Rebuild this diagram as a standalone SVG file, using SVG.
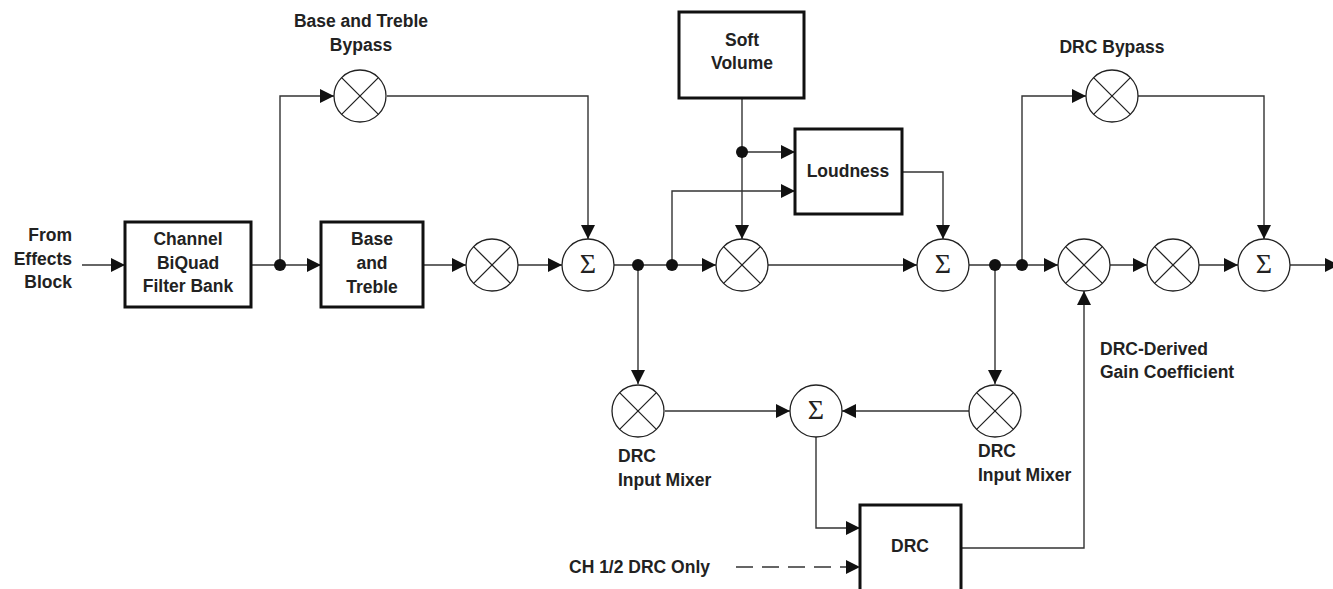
<svg xmlns="http://www.w3.org/2000/svg" width="1333" height="589" viewBox="0 0 1333 589">
<defs>
<marker id="arr" markerUnits="userSpaceOnUse" markerWidth="15" markerHeight="15" refX="14" refY="7" orient="auto">
<path d="M0,0 L14,7 L0,14 z" fill="#111"/>
</marker>
<g id="mul"><circle r="26" fill="#fff" stroke="#222" stroke-width="1.3"/><path d="M-18.4,-18.4 L18.4,18.4 M18.4,-18.4 L-18.4,18.4" stroke="#222" stroke-width="1.3"/></g>
<g id="sum"><circle r="26" fill="#fff" stroke="#222" stroke-width="1.3"/><text x="0" y="7.5" text-anchor="middle" font-family="'Liberation Serif', serif" font-size="28" fill="#222">Σ</text></g>
</defs>
<style>
.ln{fill:none;stroke:#333;stroke-width:1.4;marker-end:url(#arr)}
.box{fill:#fff;stroke:#111;stroke-width:3}
.t{font-family:'Liberation Sans',Arial,sans-serif;font-weight:bold;font-size:17.5px;fill:#222}
.c{text-anchor:middle}
.r{text-anchor:end}
.dot{fill:#111}
</style>
<rect width="1333" height="589" fill="#fff"/>

<g id="connectors">
<path class="ln" d="M82,265 H125"/>
<path class="ln" d="M252,265 H321"/>
<path class="ln" d="M280,265 V96 H334"/>
<path class="ln" d="M387,96 H588 V239"/>
<path class="ln" d="M423,265 H466"/>
<path class="ln" d="M518,265 H562"/>
<path class="ln" d="M614,265 H716"/>
<path class="ln" d="M638,265 V384"/>
<path class="ln" d="M672,265 V191 H795"/>
<path class="ln" d="M742,98 V239"/>
<path class="ln" d="M742,152 H795"/>
<path class="ln" d="M902,172 H943 V239"/>
<path class="ln" d="M768,265 H917"/>
<path class="ln" d="M969,265 H1058"/>
<path class="ln" d="M995,265 V384"/>
<path class="ln" d="M1022,265 V96 H1086"/>
<path class="ln" d="M1138,96 H1264 V239"/>
<path class="ln" d="M1110,265 H1147"/>
<path class="ln" d="M1199,265 H1238"/>
<path class="ln" d="M1290,265 H1339"/>
<path class="ln" d="M665,411 H790"/>
<path class="ln" d="M969,411 H842"/>
<path class="ln" d="M816,437 V528 H860"/>
<path class="ln" d="M736,567 H860" stroke-dasharray="17,9"/>
<path class="ln" d="M961,548 H1084 V291"/>
<circle class="dot" cx="280" cy="265" r="6"/>
<circle class="dot" cx="638" cy="265" r="6"/>
<circle class="dot" cx="672" cy="265" r="6"/>
<circle class="dot" cx="742" cy="152" r="6"/>
<circle class="dot" cx="995" cy="265" r="6"/>
<circle class="dot" cx="1022" cy="265" r="6"/>
</g>

<g id="from-label">
<text class="t r" x="72" y="241">From</text>
<text class="t r" x="72" y="265">Effects</text>
<text class="t r" x="72" y="288">Block</text>
</g>

<g id="channel-biquad">
<rect class="box" x="125" y="222" width="126" height="85"/>
<text class="t c" x="188" y="245">Channel</text>
<text class="t c" x="188" y="269">BiQuad</text>
<text class="t c" x="188" y="292">Filter Bank</text>
</g>

<g id="base-treble">
<rect class="box" x="321" y="222" width="102" height="85"/>
<text class="t c" x="372" y="245">Base</text>
<text class="t c" x="372" y="269">and</text>
<text class="t c" x="372" y="293">Treble</text>
</g>

<g id="bt-bypass">
<use href="#mul" x="360" y="96"/>
<text class="t c" x="361" y="27">Base and Treble</text>
<text class="t c" x="361" y="51">Bypass</text>
</g>

<g id="mult1"><use href="#mul" x="492" y="265"/></g>
<g id="sum1"><use href="#sum" x="588" y="265"/></g>

<g id="soft-volume">
<rect class="box" x="679" y="12" width="125" height="86"/>
<text class="t c" x="742" y="46">Soft</text>
<text class="t c" x="742" y="69">Volume</text>
</g>

<g id="loudness">
<rect class="box" x="795" y="129" width="107" height="85"/>
<text class="t c" x="848" y="177">Loudness</text>
</g>

<g id="mult2"><use href="#mul" x="742" y="265"/></g>
<g id="sum2"><use href="#sum" x="943" y="265"/></g>

<g id="drc-bypass">
<use href="#mul" x="1112" y="96"/>
<text class="t c" x="1112" y="53">DRC Bypass</text>
</g>

<g id="mult3"><use href="#mul" x="1084" y="265"/></g>
<g id="mult4"><use href="#mul" x="1173" y="265"/></g>
<g id="sum3"><use href="#sum" x="1264" y="265"/></g>

<g id="drc-mixer-left">
<use href="#mul" x="638" y="411"/>
<text class="t" x="618" y="462">DRC</text>
<text class="t" x="618" y="486">Input Mixer</text>
</g>

<g id="drc-sum"><use href="#sum" x="816" y="411"/></g>

<g id="drc-mixer-right">
<use href="#mul" x="995" y="411"/>
<text class="t" x="978" y="457">DRC</text>
<text class="t" x="978" y="481">Input Mixer</text>
</g>

<g id="drc">
<rect class="box" x="860" y="505" width="101" height="95"/>
<text class="t c" x="910" y="552">DRC</text>
</g>

<g id="drc-gain-label">
<text class="t" x="1100" y="355">DRC-Derived</text>
<text class="t" x="1100" y="378">Gain Coefficient</text>
</g>

<g id="ch-label">
<text class="t" x="569" y="573">CH 1/2 DRC Only</text>
</g>
</svg>
